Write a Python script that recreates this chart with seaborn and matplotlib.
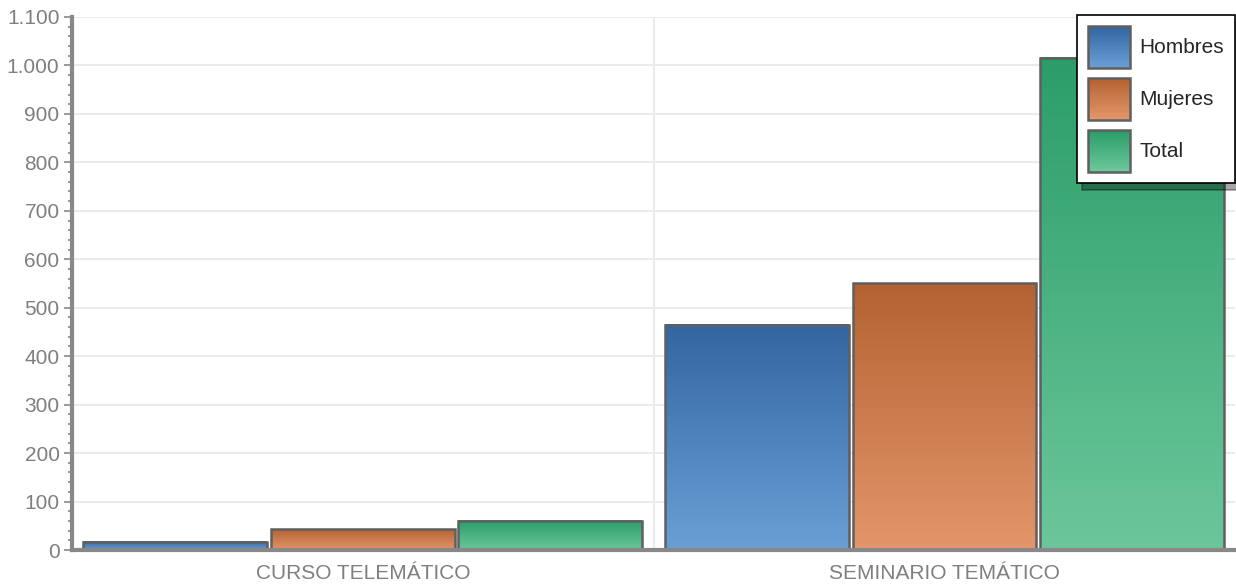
import numpy as np
import pandas as pd
import matplotlib
matplotlib.use("Agg")
import matplotlib.pyplot as plt
import seaborn as sns
from matplotlib.colors import LinearSegmentedColormap
from matplotlib.ticker import FuncFormatter, MultipleLocator, FixedLocator
from matplotlib.legend_handler import HandlerBase
from matplotlib.patches import Rectangle

# --- data ---
categories = ["CURSO TELEMÁTICO", "SEMINARIO TEMÁTICO"]
series = ["Hombres", "Mujeres", "Total"]
hombres = [17, 465]
mujeres = [43, 551]
total = [60, 1016]

# top / bottom colours of the vertical gradients
top_colors = {"Hombres": "#3366a1", "Mujeres": "#b46231", "Total": "#2b9d69"}
bottom_colors = {"Hombres": "#6a9fd6", "Mujeres": "#e3966b", "Total": "#6cc79b"}

df = pd.DataFrame({
    "Categoria": categories * 3,
    "Serie": [s for s in series for _ in categories],
    "Valor": hombres + mujeres + total,
})

sns.set_theme(style="white")
plt.rcParams["font.family"] = ["Liberation Sans", "DejaVu Sans"]

fig = plt.figure(figsize=(12.36, 5.85), dpi=100)
ax = fig.add_axes([72 / 1236, 35 / 585, 1 - 72 / 1236 - 0.0005, (550 - 17) / 585])

mid = {s: tuple((np.array(matplotlib.colors.to_rgb(top_colors[s])) +
                 np.array(matplotlib.colors.to_rgb(bottom_colors[s]))) / 2) for s in series}

sns.barplot(data=df, x="Categoria", y="Valor", hue="Serie", order=categories,
            hue_order=series, palette=mid, width=0.967, gap=0.02,
            edgecolor="#5f5f5f", linewidth=1.8, ax=ax, legend=False, zorder=3)

ax.set_xlim(-0.5, 1.5)
ax.set_ylim(0, 1100)

# gradient fills on each bar
for i, patch in enumerate(ax.patches):
    s = series[i // len(categories)]
    cmap = LinearSegmentedColormap.from_list(s, [bottom_colors[s], top_colors[s]])
    x0, y0 = patch.get_x(), patch.get_y()
    w, h = patch.get_width(), patch.get_height()
    grad = np.linspace(0, 1, 256).reshape(-1, 1)
    ax.imshow(grad, cmap=cmap, origin="lower", aspect="auto",
              extent=[x0, x0 + w, y0, y0 + h], zorder=2, interpolation="bilinear")
    patch.set_facecolor("none")
    patch.set_zorder(4)

ax.set_xlim(-0.5, 1.5)
ax.set_ylim(0, 1100)

# grid
ax.yaxis.set_major_locator(MultipleLocator(100))
ax.yaxis.set_minor_locator(MultipleLocator(20))
ax.grid(axis="y", which="major", color="#ebebeb", linewidth=1.5, zorder=0)
ax.axvline(0.5, color="#ebebeb", linewidth=1.5, zorder=0)
ax.yaxis.set_major_formatter(FuncFormatter(lambda v, p: f"{int(v):,}".replace(",", ".")))

ax.xaxis.set_minor_locator(FixedLocator([0.5]))
ax.tick_params(axis="x", which="major", length=0, pad=10, labelsize=15, labelcolor="#7f7f7f")
ax.tick_params(axis="x", which="minor", length=7, width=1.2, color="#888888", direction="out")
ax.tick_params(axis="y", which="major", length=6, width=1.2, color="#888888",
               direction="out", labelsize=15, labelcolor="#7f7f7f", pad=3, left=True)
ax.tick_params(axis="y", which="minor", length=3, width=1.2, color="#888888", direction="out", left=True)

for side in ["top", "right"]:
    ax.spines[side].set_visible(False)
for side in ["left", "bottom"]:
    ax.spines[side].set_color("#888888")
    ax.spines[side].set_linewidth(3)
    ax.spines[side].set_zorder(5)

ax.set_xlabel("")
ax.set_ylabel("")


class GradientHandler(HandlerBase):
    # swatch with the same vertical gradient as the bars
    def create_artists(self, legend, orig_handle, xdescent, ydescent, width, height, fontsize, trans):
        s = orig_handle.get_label()
        cmap = LinearSegmentedColormap.from_list(s, [bottom_colors[s], top_colors[s]])
        artists = []
        n = 30
        for k in range(n):
            r = Rectangle((-xdescent, -ydescent + height * k / n), width, height / n + 0.3,
                          facecolor=cmap(k / (n - 1)), edgecolor="none", transform=trans)
            artists.append(r)
        artists.append(Rectangle((-xdescent, -ydescent), width, height, facecolor="none",
                                 edgecolor="#5f5f5f", linewidth=1.8, transform=trans))
        return artists


handles = [Rectangle((0, 0), 1, 1, label=s) for s in series]
leg = ax.legend(handles=handles, labels=series, loc="upper right", bbox_to_anchor=(1.0, 1.004),
                borderaxespad=0.0,
                handler_map={Rectangle: GradientHandler()}, fontsize=15,
                handlelength=2.0, handleheight=2.7, labelspacing=0.49, handletextpad=0.45,
                borderpad=0.55, fancybox=False,
                shadow={"color": "black", "alpha": 0.35, "ox": 4, "oy": -5},
                framealpha=1, edgecolor="black")
leg.get_frame().set_linewidth(1.2)
leg.set_zorder(10)

fig.savefig("out.png", dpi=100)
